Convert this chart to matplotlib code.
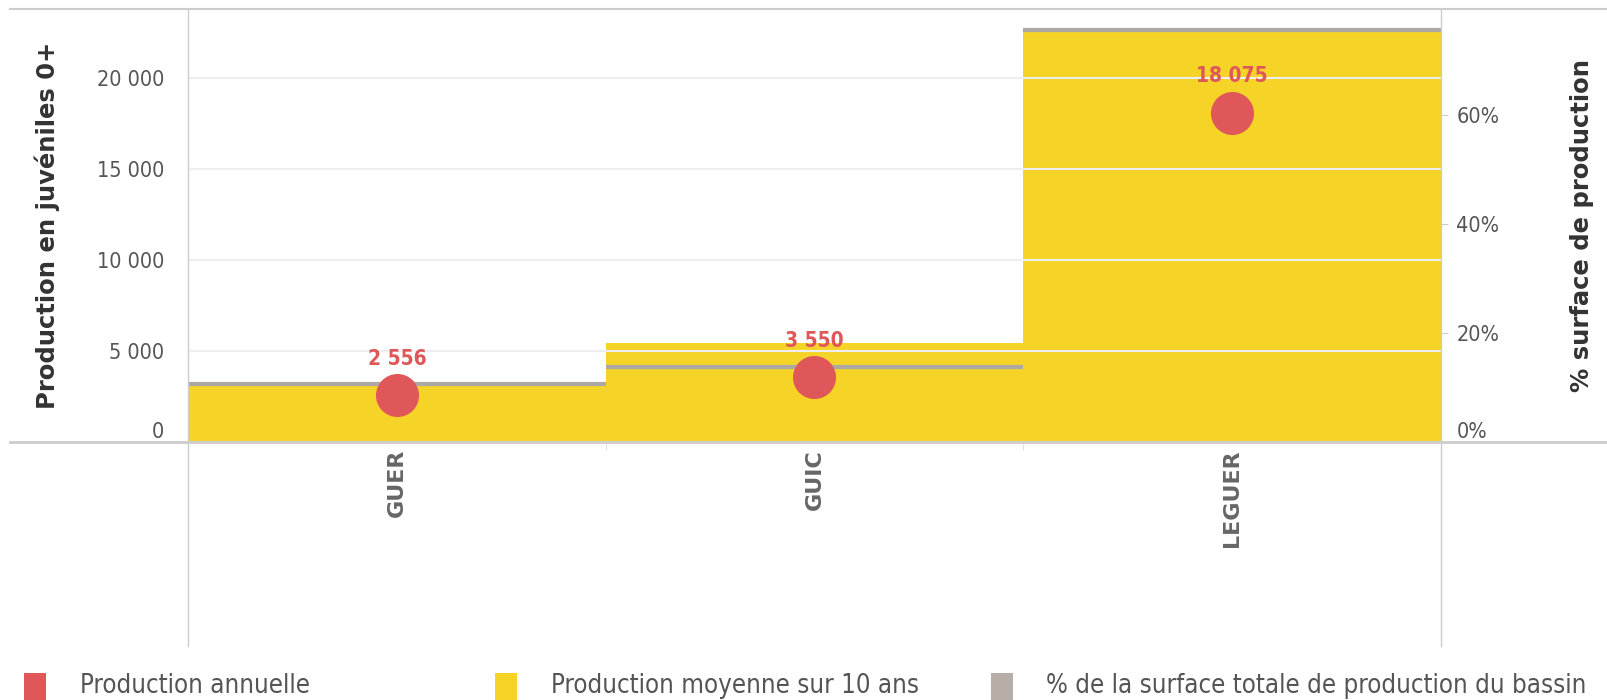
import matplotlib
matplotlib.use("Agg")
import matplotlib.pyplot as plt
from matplotlib.lines import Line2D
from matplotlib.patches import Rectangle

# ---- data ----
categories = ["GUER", "GUIC", "LEGUER"]
production_annuelle = [2556, 3550, 18075]
production_moyenne_10ans = [3160, 5440, 22620]
pct_surface = [10.7, 13.8, 75.5]
left_ticks = [0, 5000, 10000, 15000, 20000]
left_tick_labels = ["0", "5 000", "10 000", "15 000", "20 000"]
right_ticks = [0, 20, 40, 60]
right_tick_labels = ["0%", "20%", "40%", "60%"]
legend_labels = ["Production annuelle", "Production moyenne sur 10 ans",
                 "% de la surface totale de production du bassin"]

RED = "#E0575A"
YELLOW = "#F5D327"
GRAYLINE = "#ABA8A6"
GRAYLEG = "#B8AEA8"
AXC = "#CCCCCC"
TXT = "#555555"

W, H = 1608, 700
def fx(x): return x / W
def fy(y): return 1 - y / H

fig = plt.figure(figsize=(W / 100, H / 100), dpi=100)
L, R, T, B = 188, 1441, 9.3, 442
ax = fig.add_axes([fx(L), fy(B), (R - L) / W, (B - T) / H])
ax2 = ax.twinx()
for a in (ax, ax2):
    for s in a.spines.values():
        s.set_visible(False)
ax2.patch.set_visible(False)

x = list(range(len(categories)))
ax.bar(x, production_moyenne_10ans, width=1.0, color=YELLOW, zorder=1)
ax.set_xlim(-0.5, 2.5)
ax.set_ylim(0, 23760)
ax2.set_ylim(0, 79.3)

# gridlines drawn over the bars
ax.set_yticks(left_ticks)
ax.set_yticklabels(left_tick_labels)
ax.grid(axis="y", color="#EEEEEE", linewidth=1.5)
ax.set_axisbelow(False)
ax.grid(axis="x", visible=False)

# % surface lines (right axis scale)
ax.hlines(pct_surface, [i - 0.5 for i in x], [i + 0.5 for i in x],
          colors=GRAYLINE, linewidth=3, zorder=3, transform=ax2.transData)

# annual production dots
ax.scatter(x, production_annuelle, s=31**2, color=RED, zorder=4, linewidths=0,
           clip_on=False)
for xi, v in zip(x, production_annuelle):
    ax.annotate(f"{v:,}".replace(",", " "), (xi, v), xytext=(0, 19),
                textcoords="offset points", ha="center", va="bottom",
                color=RED, fontsize=15, fontweight="bold",
                family=["DejaVu Sans"], fontstretch="condensed", zorder=5)

# axes ticks
ax.tick_params(axis="y", length=0, pad=17, labelcolor=TXT)
for lab in ax.get_yticklabels():
    lab.set_fontfamily(["DejaVu Sans"]); lab.set_fontsize(15.5); lab.set_fontstretch("condensed")
ax.get_yticklabels()[0].set_va("bottom")

ax2.set_yticks(right_ticks)
ax2.set_yticklabels(right_tick_labels)
ax2.tick_params(axis="y", length=5, color=AXC, pad=6, labelcolor=TXT)
for lab in ax2.get_yticklabels():
    lab.set_fontfamily(["DejaVu Sans"]); lab.set_fontsize(15.5); lab.set_fontstretch("condensed")
ax2.get_yticklabels()[0].set_va("bottom")

ax.set_xticks(x)
ax.set_xticklabels(categories, rotation=90, va="top", ha="center")
ax.tick_params(axis="x", which="major", length=0, pad=5, labelcolor="#666666",
               labelsize=16)
for lab in ax.get_xticklabels():
    lab.set_fontfamily(["DejaVu Sans"]); lab.set_fontweight("bold")
ax.set_xticks([0.5, 1.5], minor=True)
ax.tick_params(axis="x", which="minor", length=6, color="#DDDDDD", direction="out")

# axis titles
ax.set_ylabel("Production en juvéniles 0+", fontsize=17.5, color="#333333",
              fontweight="bold", family=["DejaVu Sans"])
ax.yaxis.set_label_coords((60 - L) / (R - L), 0.5)
ax2.set_ylabel("% surface de production", fontsize=17.5, color="#333333",
               fontweight="bold", family=["DejaVu Sans"])
ax2.yaxis.set_label_coords((1570 - L) / (R - L), 0.5)

# frame lines
def fline(x0, y0, x1, y1, lw=1.2, c=AXC):
    fig.add_artist(Line2D([fx(x0), fx(x1)], [fy(y0), fy(y1)], transform=fig.transFigure,
                          color=c, linewidth=lw, zorder=10))
fline(10, T, W, T, lw=1.5)
fline(10, B, W, B, lw=2)
fline(L, T, L, 646, lw=1)
fline(R, T, R, 646, lw=1)

# legend
leg_colors = [RED, YELLOW, GRAYLEG]
rect_x = [24, 495, 991]
text_x = [80, 551, 1046]
for c, rx, tx, lab in zip(leg_colors, rect_x, text_x, legend_labels):
    fig.add_artist(Rectangle((fx(rx), 0), 22 / W, 27 / H, transform=fig.transFigure,
                             color=c, linewidth=0))
    fig.text(fx(tx), fy(686), lab, fontsize=18.5, color=TXT, va="center", ha="left",
             family=["DejaVu Sans"], fontstretch="condensed")

fig.savefig("out.png", dpi=100)
